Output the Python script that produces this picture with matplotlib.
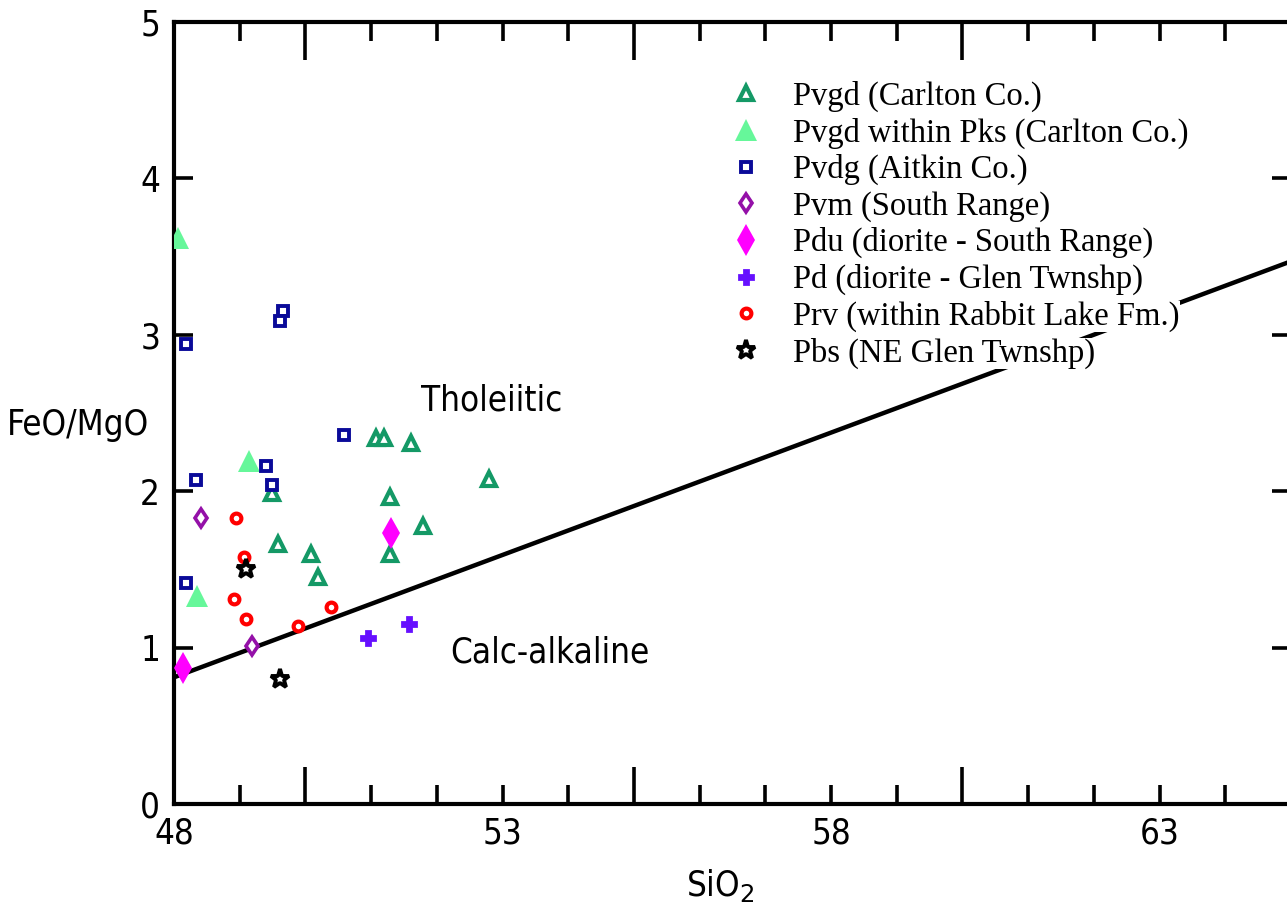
import matplotlib
matplotlib.use("Agg")
import matplotlib.pyplot as plt
from matplotlib import font_manager as fm
from matplotlib.ticker import MultipleLocator, FixedLocator, FuncFormatter

# Pvgd (Carlton Co.)
pvgd_x = [49.49, 49.58, 50.09, 50.19, 51.07, 51.20, 51.60, 51.29, 51.79, 51.29, 52.79]
pvgd_y = [1.99, 1.66, 1.60, 1.45, 2.34, 2.34, 2.31, 1.96, 1.78, 1.60, 2.08]
# Pvgd within Pks
pks_x = [48.06, 49.14, 48.35]
pks_y = [3.62, 2.19, 1.33]
# Pvdg (Aitkin Co.)
pvdg_x = [48.19, 49.66, 49.62, 50.59, 48.33, 49.40, 49.49, 48.18]
pvdg_y = [2.94, 3.15, 3.09, 2.36, 2.07, 2.16, 2.04, 1.41]
# Pvm (South Range)
pvm_x = [48.41, 49.18]
pvm_y = [1.83, 1.01]
# Pdu (diorite - South Range)
pdu_x = [51.30, 48.14]
pdu_y = [1.73, 0.87]
# Pd (diorite - Glen Twnshp)
pd_x = [50.96, 51.58]
pd_y = [1.06, 1.15]
# Prv (within Rabbit Lake Fm.)
prv_x = [48.94, 49.07, 48.91, 49.10, 49.89, 50.39]
prv_y = [1.83, 1.58, 1.31, 1.18, 1.14, 1.26]
# Pbs (NE Glen Twnshp)
pbs_x = [49.09, 49.62]
pbs_y = [1.50, 0.80]

# tholeiitic / calc-alkaline divide
div_x = [48, 65]
div_y = [0.81, 3.47]

# look for a narrow sans font, the original uses a condensed helvetica
narrow = None
for f in fm.fontManager.ttflist:
    nm = f.name
    if "Serif" in nm or "Mono" in nm or f.style != "normal" or f.weight not in (400, "normal", "regular"):
        continue
    if "Narrow" in nm or "Condensed" in nm or str(f.stretch) in ("condensed", "semi-condensed"):
        narrow = f
        break

if narrow is not None:
    sans_kw = {"family": narrow.name, "stretch": narrow.stretch}
    fs = 25
else:
    sans_kw = {"family": "Liberation Sans"}
    fs = 24
serif = ["Liberation Serif", "DejaVu Serif"]

fig = plt.figure(figsize=(12.87, 9.02), dpi=100)
ax = fig.add_axes([174 / 1287, 98 / 902, 1117 / 1287, 782 / 902])

ax.plot(div_x, div_y, color="black", lw=3.2, zorder=2)

ax.plot(pvgd_x, pvgd_y, ls="none", marker="^", ms=9.5, mew=3, mfc="white",
        mec="#149966", label="Pvgd (Carlton Co.)", zorder=3)
ax.plot(pks_x, pks_y, ls="none", marker="^", ms=16, mew=0, color="#66f79a",
        label="Pvgd within Pks (Carlton Co.)", zorder=3)
ax.plot(pvdg_x, pvdg_y, ls="none", marker="s", ms=7, mew=2.8, mfc="white",
        mec="#0a0a99", label="Pvdg (Aitkin Co.)", zorder=3)
ax.plot(pvm_x, pvm_y, ls="none", marker="d", ms=9.5, mew=2.6, mfc="white",
        mec="#9410a8", label="Pvm (South Range)", zorder=3)
ax.plot(pdu_x, pdu_y, ls="none", marker="d", ms=16, mew=0, color="#ff00ff",
        label="Pdu (diorite - South Range)", zorder=3)
ax.plot(pd_x, pd_y, ls="none", marker="P", ms=10, mew=2, color="#6610ff",
        label="Pd (diorite - Glen Twnshp)", zorder=3)
ax.plot(prv_x, prv_y, ls="none", marker="o", ms=7, mew=3, mfc="white",
        mec="#ff0000", label="Prv (within Rabbit Lake Fm.)", zorder=3)
ax.plot(pbs_x, pbs_y, ls="none", marker="*", ms=14, mew=2.8, mfc="white",
        mec="black", label="Pbs (NE Glen Twnshp)", zorder=3)

ax.text(52.84, 2.58, "Tholeiitic", ha="center", va="center", fontsize=fs, **sans_kw)
ax.text(53.72, 0.97, "Calc-alkaline", ha="center", va="center", fontsize=fs, **sans_kw)

ax.set_xlim(48, 65)
ax.set_ylim(0, 5)

# long ticks every 5 from 50, short ticks every unit, labels at 48/53/58/63
ax.xaxis.set_major_locator(FixedLocator([50, 55, 60, 65]))
ax.xaxis.set_major_formatter(FuncFormatter(lambda v, p: ""))
ax.xaxis.set_minor_locator(MultipleLocator(1))
ax.xaxis.set_minor_formatter(FuncFormatter(
    lambda v, p: f"{v:.0f}" if round(v) in (48, 53, 58, 63) else ""))
ax.yaxis.set_major_locator(MultipleLocator(1))

ax.tick_params(axis="x", which="major", direction="in", length=27, width=2.6,
               top=True, bottom=True)
ax.tick_params(axis="x", which="minor", direction="in", length=13.5, width=2.6,
               top=True, bottom=True, labelsize=fs, pad=9)
ax.tick_params(axis="y", which="major", direction="in", length=14, width=2.6,
               left=True, right=True, labelsize=fs, pad=10)
for lab in ax.get_xticklabels(minor=True) + ax.get_yticklabels():
    lab.set_family(sans_kw["family"])
    if "stretch" in sans_kw:
        lab.set_stretch(sans_kw["stretch"])

for sp in ax.spines.values():
    sp.set_linewidth(3)

ax.set_xlabel("SiO$_2$", fontsize=fs, **sans_kw)
ax.xaxis.set_label_coords(0.489, -0.08)
ax.set_ylabel("FeO/MgO", fontsize=fs, rotation=0, ha="center", va="center", **sans_kw)
ax.yaxis.set_label_coords(-0.086, 0.485)

leg = ax.legend(loc="upper left", bbox_to_anchor=(0.477, 0.946), frameon=False,
                prop={"family": serif, "size": 23.5}, labelspacing=0.17,
                handlelength=1.4, handletextpad=0.75, borderpad=0, numpoints=1)
for t in leg.get_texts():
    t.set_bbox(dict(facecolor="white", edgecolor="none", pad=0))

fig.savefig("out.png", dpi=100)
